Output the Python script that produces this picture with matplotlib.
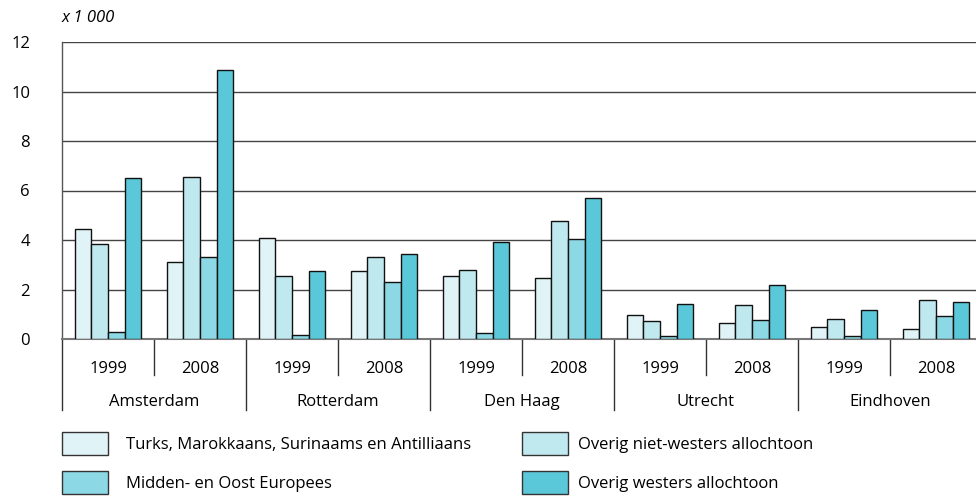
import numpy as np
import matplotlib
matplotlib.use('Agg')
import matplotlib.pyplot as plt
from matplotlib.patches import Rectangle

plt.rcParams['font.family'] = ['Open Sans', 'DejaVu Sans']

# Data (x 1 000)
cities = ['Amsterdam', 'Rotterdam', 'Den Haag', 'Utrecht', 'Eindhoven']
years  = ['1999', '2008']
series = ['Turks, Marokkaans, Surinaams en Antilliaans',
          'Overig niet-westers allochtoon',
          'Midden- en Oost Europees',
          'Overig westers allochtoon']

# one value per (city, year) group, in order Ams99, Ams08, Rot99, ...
turks_mar   = [4.45, 3.12, 4.07, 2.73, 2.55, 2.45, 0.96, 0.65, 0.47, 0.39]
niet_west   = [3.85, 6.53, 2.54, 3.30, 2.77, 4.78, 0.73, 1.39, 0.82, 1.57]
midden_oost = [0.28, 3.32, 0.15, 2.32, 0.23, 4.03, 0.11, 0.76, 0.11, 0.92]
westers     = [6.49, 10.88, 2.73, 3.42, 3.92, 5.70, 1.43, 2.18, 1.19, 1.49]

values = [turks_mar, niet_west, midden_oost, westers]
colors = ['#e0f4f7', '#c0e9ef', '#8dd8e5', '#5bc8d9']

W, H = 976, 496
FS = 12
fig = plt.figure(figsize=(W / 100, H / 100), dpi=100)
ax = fig.add_axes([62 / W, (H - 339) / H, (W - 62) / W, 297 / H])

n_groups = len(turks_mar)
x = np.arange(n_groups)
bw = 0.181
for s, (vals, col) in enumerate(zip(values, colors)):
    ax.bar(x + (s - 1.5) * bw, vals, width=bw, color=col,
           edgecolor='#111111', linewidth=1.0, zorder=3)

ax.set_xlim(-0.5, -0.5 + (W - 62) / 92)
ax.set_ylim(0, 12)
ax.set_yticks(np.arange(0, 13, 2))
ax.yaxis.grid(True, color='#444444', linewidth=1.0, zorder=0)
ax.tick_params(axis='y', length=0, pad=23, labelsize=FS)
ax.set_xticks([])
for sp in ['top', 'right']:
    ax.spines[sp].set_visible(False)
ax.spines['left'].set_color('#555555')
ax.spines['bottom'].set_color('#777777')
ax.spines['left'].set_linewidth(1.0)
ax.spines['bottom'].set_linewidth(1.5)

# two-level category axis
tr = ax.get_xaxis_transform()
ah = 297.0
for g in range(n_groups):
    ax.text(g, -30 / ah, years[g % 2], transform=tr, ha='center', va='center',
            fontsize=FS)
for c, city in enumerate(cities):
    ax.text(2 * c + 0.5, -63 / ah, city, transform=tr, ha='center',
            va='center', fontsize=FS)
    ax.plot([2 * c - 0.5] * 2, [0, -71 / ah], transform=tr, color='#333333',
            linewidth=1.0, clip_on=False)
    ax.plot([2 * c + 0.5] * 2, [0, -36 / ah], transform=tr, color='#333333',
            linewidth=1.0, clip_on=False)

fig.text(62 / W, 1 - 18 / H, 'x 1 000', style='italic', fontsize=FS,
         ha='left', va='center')

# legend: (patch x, patch top y, text x)
pos = [(62, 432, 126), (522, 432, 578), (62, 471, 126), (522, 471, 578)]
for (px, py, tx), lab, col in zip(pos, series, colors):
    fig.add_artist(Rectangle((px / W, 1 - (py + 23) / H), 46 / W, 23 / H,
                             transform=fig.transFigure, facecolor=col,
                             edgecolor='#333333', linewidth=1.0))
    fig.text(tx / W, 1 - (py + 13) / H, lab, fontsize=FS,
             ha='left', va='center')

fig.savefig('out.png', dpi=100)
